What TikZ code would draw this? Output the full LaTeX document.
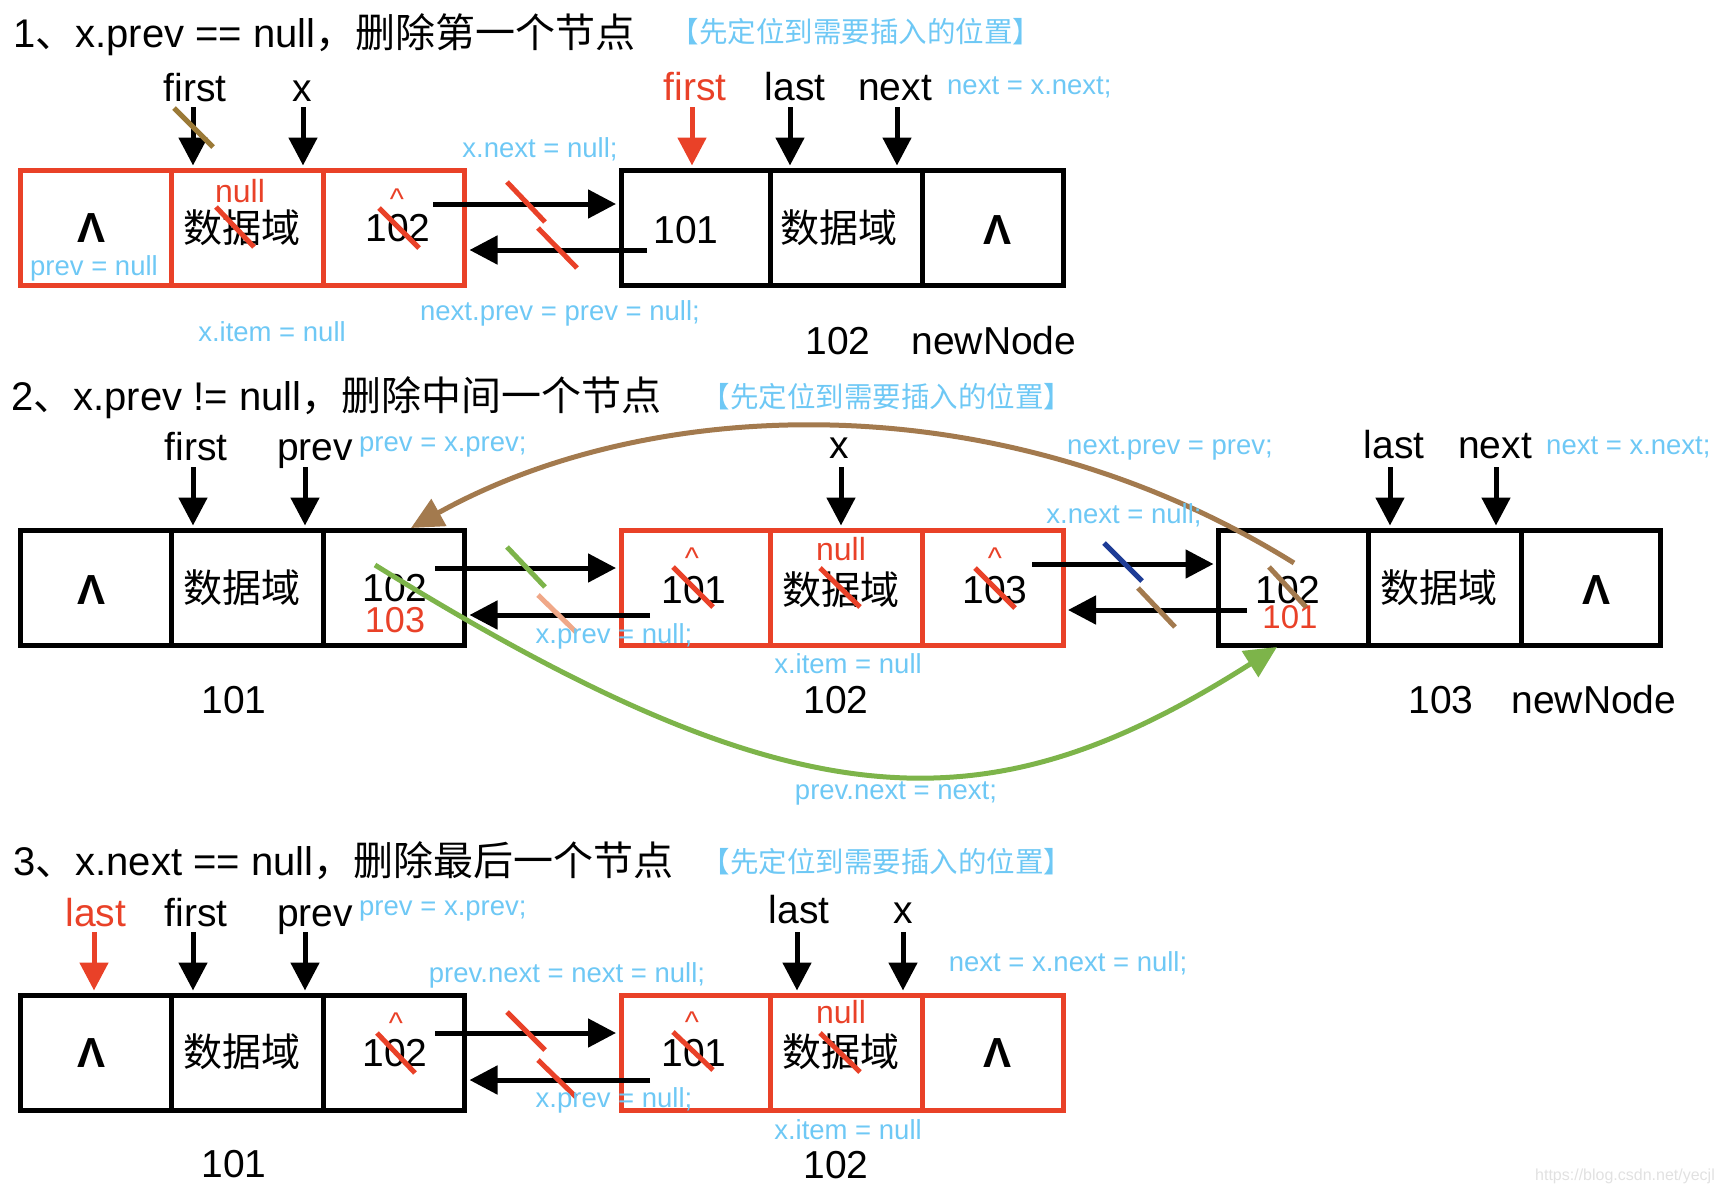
\documentclass[tikz,border=0pt]{standalone}
\usepackage{fontspec}
\setmainfont{Liberation Sans}
\newfontfamily\cjk{Noto Sans CJK SC}
\usetikzlibrary{arrows.meta}
\definecolor{bred}{RGB}{233,65,40}
\definecolor{sky}{RGB}{110,200,245}
\definecolor{olivec}{RGB}{155,122,55}
\definecolor{brownc}{RGB}{163,122,78}
\definecolor{greenc}{RGB}{125,180,74}
\definecolor{salmonc}{RGB}{240,168,136}
\definecolor{navyc}{RGB}{30,60,150}
\definecolor{wmark}{RGB}{225,225,225}
\newcommand\fsz[1]{\fontsize{#1}{#1}\selectfont}
\begin{document}
\begin{tikzpicture}[x=1pt,y=-1pt,
  cell/.style={draw, line width=5pt, minimum height=115pt, inner sep=0pt},
  ptr/.style={line width=5pt, shorten >=2.5pt, -{Triangle[length=28pt,width=28pt]}},
  curv/.style={line width=5pt, -{Triangle[length=32pt,width=30pt]}},
  txt/.style={inner sep=0pt, font=\fsz{39}},
  cjkt/.style={inner sep=0pt, font=\cjk\fsz{39}},
  wedge/.style={inner sep=0pt, font=\bfseries\fsz{42}},
  lbl/.style={inner sep=0pt, anchor=base, font=\fsz{39}},
  title/.style={inner sep=0pt, anchor=base west, font=\fsz{40}},
  hint/.style={inner sep=0pt, text=sky, font=\cjk\fsz{28.5}},
  note/.style={inner sep=0pt, text=sky, font=\fsz{27.5}},
  rnull/.style={inner sep=0pt, anchor=base, text=bred, font=\fsz{32}},
  caret/.style={inner sep=0pt, anchor=base, text=bred, font=\fsz{30}},
  strike/.style={line width=5pt}
]
\useasboundingbox (0,0) rectangle (1722,1194);

% ================= Section 1 =================
\node[title] (t1) at (13,47) {1{\cjk 、}x.prev == null{\cjk ，删除第一个节点}};
\node[hint] (h1) at (856,32) {【先定位到需要插入的位置】};

\node[cell, draw=bred, minimum width=150.5pt] (a11) at (95.75,228) {};
\node[cell, draw=bred, minimum width=152pt] (a12) at (247,228) {};
\node[cell, draw=bred, minimum width=141.5pt] (a13) at (393.75,228) {};
\node[cell, minimum width=149pt] (b11) at (695.5,228) {};
\node[cell, minimum width=152pt] (b12) at (846,228) {};
\node[cell, minimum width=141pt] (b13) at (992.5,228) {};

\node[wedge] (a11t) at (92,228) {Λ};
\node[note] (a11n) at (94,268) {prev = null};
\node[rnull] (a12n) at (240,202) {null};
\node[cjkt] (a12t) at (242,228) {数据域};
\node[caret] (a13c) at (397,209) {\textasciicircum};
\node[txt] (a13t) at (398,228) {102};
\node[txt] (b11t) at (686,230) {101};
\node[cjkt] (b12t) at (839,228) {数据域};
\node[wedge] (b13t) at (997,230) {Λ};
\draw[strike, bred] (216,207) -- (254,247);
\draw[strike, bred] (379,208) -- (419,248);

\node[lbl] (p1f) at (195,101) {first};
\node[lbl] (p1x) at (302,101) {x};
\node[lbl, text=bred] (p1nf) at (695,100) {first};
\node[lbl] (p1l) at (795,100) {last};
\node[lbl] (p1n) at (895,100) {next};
\node[note, anchor=west] (n1e) at (947,87) {next = x.next;};

\coordinate (q1a) at (193,107);
\coordinate (q1b) at (303,107);
\coordinate (q1c) at (692,107);
\coordinate (q1d) at (790,107);
\coordinate (q1e) at (897,107);
\draw[ptr] (q1a) -- (q1a |- a12.north);
\draw[ptr] (q1b) -- (q1b |- a12.north);
\draw[ptr, bred] (q1c) -- (q1c |- b11.north);
\draw[ptr] (q1d) -- (q1d |- b12.north);
\draw[ptr] (q1e) -- (q1e |- b12.north);
\draw[strike, olivec] (174,108) -- (213,147);

\coordinate (h1r) at (433,204);
\coordinate (h1l) at (647,250);
\draw[ptr] (h1r) -- (h1r -| b11.west);
\draw[ptr] (h1l) -- (h1l -| a13.east);
\draw[strike, bred] (507,182) -- (545,222);
\draw[strike, bred] (538,228) -- (577,268);

\node[note] (n1b) at (540,149) {x.next = null;};
\node[note] (n1c) at (560,313) {next.prev = prev = null;};
\node[note] (n1d) at (272,332) {x.item = null};
\node[txt] (l1a) at (838,341) {102};
\node[txt] (l1b) at (994,341) {newNode};

% ================= Section 2 =================
\node[title] (t2) at (11,410) {2{\cjk 、}x.prev != null{\cjk ，删除中间一个节点}};
\node[hint] (h2) at (887,397) {【先定位到需要插入的位置】};

\node[cell, minimum width=150.5pt] (a21) at (95.75,588) {};
\node[cell, minimum width=152pt] (a22) at (247,588) {};
\node[cell, minimum width=141.5pt] (a23) at (393.75,588) {};
\node[cell, draw=bred, minimum width=149pt] (b21) at (695.5,588) {};
\node[cell, draw=bred, minimum width=152pt] (b22) at (846,588) {};
\node[cell, draw=bred, minimum width=141pt] (b23) at (992.5,588) {};
\node[cell, minimum width=149.5pt] (c21) at (1293.25,588) {};
\node[cell, minimum width=153pt] (c22) at (1444.5,588) {};
\node[cell, minimum width=139.5pt] (c23) at (1590.75,588) {};

\node[wedge] (a21t) at (92,590) {Λ};
\node[cjkt] (a22t) at (242,588) {数据域};
\node[txt] (a23t) at (395,588) {102};
\node[txt, text=bred, font=\fsz{36}] (a23r) at (395,620) {103};
\node[caret] (b21c) at (692,568.5) {\textasciicircum};
\node[txt] (b21t) at (694,590) {101};
\node[rnull] (b22n) at (841,560) {null};
\node[cjkt] (b22t) at (841,590) {数据域};
\node[caret] (b23c) at (995,568.5) {\textasciicircum};
\node[txt] (b23t) at (995,590) {103};
\node[txt] (c21t) at (1288,590) {102};
\node[txt, text=bred, font=\fsz{33}] (c21r) at (1290,617) {101};
\node[cjkt] (c22t) at (1439,588) {数据域};
\node[wedge] (c23t) at (1596,590) {Λ};
\draw[strike, bred] (673,567) -- (713,607);
\draw[strike, bred] (820,568) -- (860,607);
\draw[strike, bred] (975,568) -- (1015,608);

\node[lbl] (p2f) at (196,460) {first};
\node[lbl] (p2p) at (315,460) {prev};
\node[note, anchor=west] (n2a) at (359,447) {prev = x.prev;};
\node[lbl] (p2x) at (839,458) {x};
\node[lbl] (p2l) at (1394,458) {last};
\node[lbl] (p2n) at (1495,458) {next};
\node[note, anchor=west] (n2g) at (1546,447) {next = x.next;};

\coordinate (q2a) at (193,467);
\coordinate (q2b) at (305,467);
\coordinate (q2c) at (841,467);
\coordinate (q2d) at (1390,467);
\coordinate (q2e) at (1496,467);
\draw[ptr] (q2a) -- (q2a |- a22.north);
\draw[ptr] (q2b) -- (q2b |- a22.north);
\draw[ptr] (q2c) -- (q2c |- b22.north);
\draw[ptr] (q2d) -- (q2d |- c22.north);
\draw[ptr] (q2e) -- (q2e |- c22.north);

\coordinate (h2r) at (435,568);
\coordinate (h2l) at (650,615);
\coordinate (h2r2) at (1032,564);
\coordinate (h2l2) at (1247,610);
\draw[ptr] (h2r) -- (h2r -| b21.west);
\draw[ptr] (h2l) -- (h2l -| a23.east);
\draw[ptr] (h2r2) -- (h2r2 -| c21.west);
\draw[ptr] (h2l2) -- (h2l2 -| b23.east);
\draw[strike, greenc] (507,547) -- (545,587);
\draw[strike, salmonc] (538,595) -- (576,632);
\draw[strike, navyc] (1104,543) -- (1142,581);
\draw[strike, brownc] (1138,588) -- (1175,627);
\draw[strike, brownc] (1269,567) -- (1306,607);

\coordinate (bs) at (1294,563);
\coordinate (be) at (411,528);
\draw[curv, brownc] (bs) .. controls (1000,380) and (650,395) .. (be);
\coordinate (gs) at (375,565);
\coordinate (ge) at (1277,647);
\draw[curv, greenc] (gs) .. controls (802,830) and (989,830) .. (ge);

\node[note] (n2b) at (1170,448) {next.prev = prev;};
\node[note] (n2c) at (1124,515) {x.next = null;};
\node[note] (n2d) at (614,636) {x.prev = null;};
\node[note] (n2e) at (848,664) {x.item = null};
\node[note] (n2f) at (896,793) {prev.next = next;};
\node[txt] (l2a) at (234,700) {101};
\node[txt] (l2b) at (836,700) {102};
\node[txt] (l2c) at (1441,700) {103};
\node[txt] (l2d) at (1594,700) {newNode};

% ================= Section 3 =================
\node[title] (t3) at (13,875) {3{\cjk 、}x.next == null{\cjk ，删除最后一个节点}};
\node[hint] (h3) at (887,862) {【先定位到需要插入的位置】};

\node[cell, minimum width=150.5pt] (a31) at (95.75,1053) {};
\node[cell, minimum width=152pt] (a32) at (247,1053) {};
\node[cell, minimum width=141.5pt] (a33) at (393.75,1053) {};
\node[cell, draw=bred, minimum width=149pt] (b31) at (695.5,1053) {};
\node[cell, draw=bred, minimum width=152pt] (b32) at (846,1053) {};
\node[cell, draw=bred, minimum width=141pt] (b33) at (992.5,1053) {};

\node[wedge] (a31t) at (92,1053) {Λ};
\node[cjkt] (a32t) at (242,1052) {数据域};
\node[caret] (a33c) at (396,1033.5) {\textasciicircum};
\node[txt] (a33t) at (395,1053) {102};
\node[caret] (b31c) at (692,1032.5) {\textasciicircum};
\node[txt] (b31t) at (694,1053) {101};
\node[rnull] (b32n) at (841,1023) {null};
\node[cjkt] (b32t) at (841,1052) {数据域};
\node[wedge] (b33t) at (997,1053) {Λ};
\draw[strike, bred] (377,1033) -- (415,1073);
\draw[strike, bred] (673,1032) -- (713,1070);
\draw[strike, bred] (820,1033) -- (860,1072);

\node[lbl, text=bred] (p3l) at (96,926) {last};
\node[lbl] (p3f) at (196,926) {first};
\node[lbl] (p3p) at (315,926) {prev};
\node[note, anchor=west] (n3a) at (359,911) {prev = x.prev;};
\node[lbl] (p3l2) at (799,923) {last};
\node[lbl] (p3x) at (903,923) {x};

\coordinate (q3a) at (94,932);
\coordinate (q3b) at (193,932);
\coordinate (q3c) at (305,932);
\coordinate (q3d) at (797,932);
\coordinate (q3e) at (903,932);
\draw[ptr, bred] (q3a) -- (q3a |- a31.north);
\draw[ptr] (q3b) -- (q3b |- a32.north);
\draw[ptr] (q3c) -- (q3c |- a32.north);
\draw[ptr] (q3d) -- (q3d |- b32.north);
\draw[ptr] (q3e) -- (q3e |- b32.north);

\coordinate (h3r) at (435,1033);
\coordinate (h3l) at (650,1080);
\draw[ptr] (h3r) -- (h3r -| b31.west);
\draw[ptr] (h3l) -- (h3l -| a33.east);
\draw[strike, bred] (507,1012) -- (545,1050);
\draw[strike, bred] (538,1060) -- (576,1097);

\node[note] (n3b) at (567,975) {prev.next = next = null;};
\node[note] (n3c) at (614,1100) {x.prev = null;};
\node[note] (n3d) at (848,1130) {x.item = null};
\node[note] (n3e) at (1068,963) {next = x.next = null;};
\node[txt] (l3a) at (234,1164) {101};
\node[txt] (l3b) at (836,1165) {102};

\node[inner sep=0pt, text=wmark, font=\fsz{16}] (wm) at (1625,1176) {https://blog.csdn.net/yecjl};
\end{tikzpicture}
\end{document}
